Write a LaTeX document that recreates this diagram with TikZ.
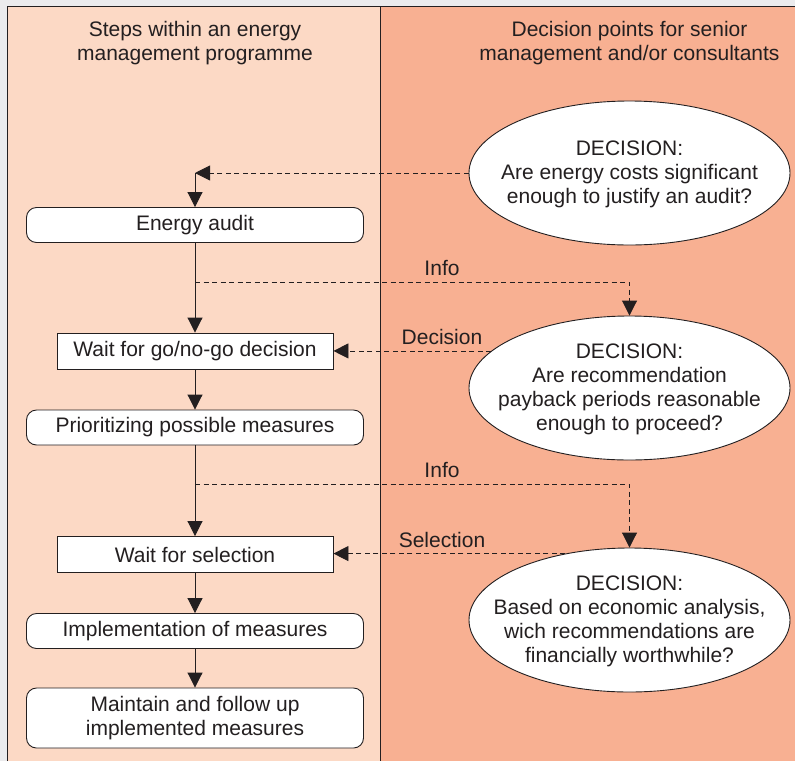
\documentclass[tikz,border=0pt]{standalone}
\usepackage{fontspec}
\setmainfont{Liberation Sans}
\usetikzlibrary{arrows.meta,shapes.geometric}
\definecolor{ink}{HTML}{231F20}
\definecolor{leftbg}{HTML}{FCD9C5}
\definecolor{rightbg}{HTML}{F8B092}
\definecolor{outer}{HTML}{EBEBED}
\newcommand\ellipsetext[1]{\makebox[0pt]{\raisebox{\dimexpr-0.5\height+1.5pt\relax}[0pt][0pt]{\begin{tabular}[b]{@{}c@{}}#1\end{tabular}}}}
\begin{document}
\begin{tikzpicture}[x=1pt,y=-1pt,
  every node/.style={font=\fontsize{21}{24}\selectfont, text=ink},
  stepround/.style={draw=ink, fill=white, rounded corners=10pt, minimum width=337pt, minimum height=35pt, inner sep=0pt, line width=0.9pt, align=center},
  stepsq/.style={draw=ink, fill=white, minimum width=276pt, minimum height=36pt, inner sep=0pt, line width=0.9pt},
  decision/.style={ellipse, draw=ink, fill=white, minimum width=321pt, minimum height=144pt, inner sep=0pt, line width=0.9pt},
  flow/.style={draw=ink, line width=0.9pt, -{Triangle[length=15pt,width=15pt]}},
  infoflow/.style={flow, dash pattern=on 5pt off 3.5pt},
  hdr/.style={align=center}]
\useasboundingbox (0,0) rectangle (795,761);
\fill[outer] (0,0) rectangle (795,761);
\fill[leftbg] (7,6) rectangle (380,761);
\fill[rightbg] (380,6) rectangle (795,761);
\draw[ink, line width=1pt] (7,761) -- (7,6) -- (795,6);
\draw[ink, line width=1pt] (380,6) -- (380,761);

\node[hdr] (h1) at (195,43) {Steps within an energy\\management programme};
\node[hdr] (h2) at (629.5,43) {Decision points for senior\\management and/or consultants};

\node[stepround] (b1) at (195,225) {Energy audit};
\node[stepsq] (b2) at (195,351) {Wait for go/no-go decision};
\node[stepround] (b3) at (195,427.5) {Prioritizing possible measures};
\node[stepsq] (b4) at (195,554.5) {Wait for selection};
\node[stepround] (b5) at (195,631) {Implementation of measures};
\node[stepround, minimum height=60pt] (b6) at (195,718) {Maintain and follow up\\implemented measures};

\node[decision] (d1) at (629.5,173) {\ellipsetext{DECISION:\\Are energy costs significant\\enough to justify an audit?}};
\node[decision] (d2) at (629.5,388) {\ellipsetext{DECISION:\\Are recommendation\\payback periods reasonable\\enough to proceed?}};
\node[decision] (d3) at (629.5,620) {\ellipsetext{DECISION:\\Based on economic analysis,\\wich recommendations are\\financially worthwhile?}};

\coordinate (t0) at (d1.west -| b1.north);
\draw[infoflow] (d1.west) -- (t0);
\draw[flow] (t0) -- (b1.north);
\draw[flow] (b1.south) -- (b2.north);

\coordinate (i1) at (195,282);
\draw[infoflow] (i1) -| (d2.north);
\node (l1) at (442,268) {Info};
\draw[infoflow] (d2.165) -- (d2.165 -| b2.east);
\node (l2) at (442,337) {Decision};

\draw[flow] (b2.south) -- (b3.north);
\draw[flow] (b3.south) -- (b4.north);

\coordinate (i2) at (195,484);
\draw[infoflow] (i2) -| (d3.north);
\node (l3) at (442,470) {Info};
\draw[infoflow] (d3.134) -- (d3.134 -| b4.east);
\node (l4) at (442,540) {Selection};

\draw[flow] (b4.south) -- (b5.north);
\draw[flow] (b5.south) -- (b6.north);
\end{tikzpicture}
\end{document}
